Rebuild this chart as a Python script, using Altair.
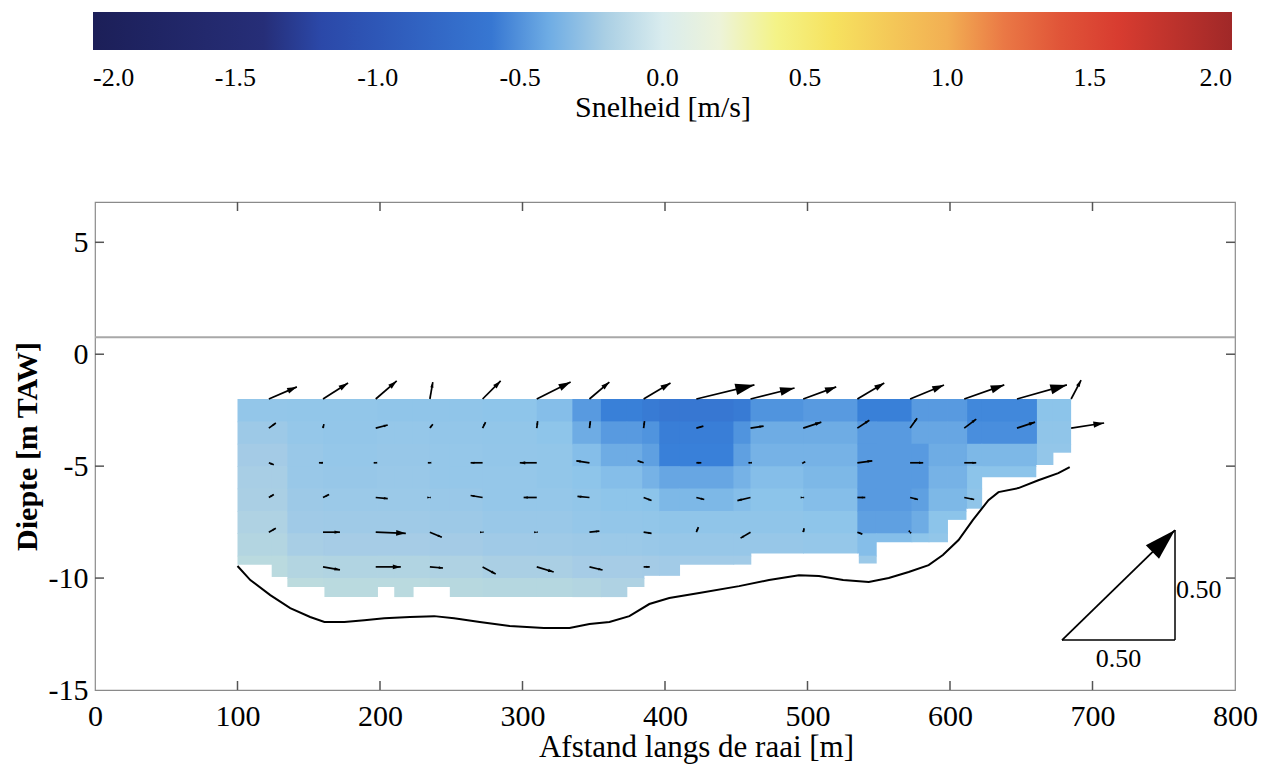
import math
import altair as alt
import pandas as pd

# ---------------- colour map (Snelheid [m/s]) ----------------
cmap_vals = [-2.0, -1.4, -1.3, -0.9, -0.47, -0.36, -0.22, -0.1, 0.0, 0.15, 0.3, 0.45,
             0.57, 0.8, 1.15, 1.22, 1.6, 2.0]
cmap_cols = ["#1c1f58", "#262e78", "#2a40a0", "#2f5fbf", "#3a82da", "#8cc4ea", "#a6cce6",
             "#c0dedc", "#d9ecee", "#ecf3e6", "#f0f2c0", "#f6f46a", "#f6e660", "#f4c858",
             "#f09c50", "#e86a40", "#d83c30", "#a02828"]
cbar_ticks = [-2.0, -1.5, -1.0, -0.5, 0.0, 0.5, 1.0, 1.5, 2.0]

# ---------------- velocity field (cells) ----------------
col_edges = [100, 135, 160, 198, 235, 272, 310, 335, 355, 384, 396, 448, 460,
             497, 535, 573, 585, 612, 661, 685]
row_tops = [-2, -3, -4, -5, -6, -7, -8, -9, -10]
row_bots = [-3, -4, -5, -6, -7, -8, -9, -10, -11]
field_vals = [
    [-0.32, -0.27, -0.23, -0.21, -0.20, -0.18, -0.16, -0.13, -0.10],
    [-0.33, -0.31, -0.29, -0.29, -0.27, -0.25, -0.21, -0.16, -0.12],
    [-0.33, -0.32, -0.31, -0.30, -0.28, -0.26, -0.22, -0.17, -0.13],
    [-0.34, -0.31, -0.30, -0.29, -0.28, -0.26, -0.22, -0.17, -0.13],
    [-0.34, -0.32, -0.31, -0.31, -0.29, -0.27, -0.23, -0.18, -0.14],
    [-0.35, -0.33, -0.32, -0.31, -0.31, -0.29, -0.25, -0.20, -0.15],
    [-0.37, -0.35, -0.33, -0.33, -0.31, -0.29, -0.26, -0.20, -0.15],
    [-0.43, -0.40, -0.37, -0.35, -0.33, -0.31, -0.27, -0.22, -0.16],
    [-0.50, -0.43, -0.40, -0.37, -0.35, -0.32, -0.28, -0.22, -0.18],
    [-0.56, -0.44, -0.42, -0.39, -0.36, -0.33, -0.29, -0.23, -0.18],
    [-0.60, -0.52, -0.49, -0.41, -0.38, -0.34, -0.30, -0.24, -0.20],
    [-0.56, -0.44, -0.42, -0.39, -0.37, -0.34, -0.30, -0.24, -0.20],
    [-0.44, -0.40, -0.39, -0.37, -0.36, -0.34, -0.30, -0.25, -0.20],
    [-0.43, -0.40, -0.39, -0.38, -0.37, -0.35, -0.31, -0.25, -0.20],
    [-0.50, -0.43, -0.43, -0.43, -0.43, -0.42, -0.37, -0.28, -0.22],
    [-0.43, -0.41, -0.43, -0.43, -0.42, -0.40, -0.35, -0.28, -0.22],
    [-0.43, -0.41, -0.40, -0.39, -0.38, -0.36, -0.33, -0.28, -0.22],
    [-0.46, -0.45, -0.38, -0.36, -0.34, -0.32, -0.30, -0.26, -0.22],
    [-0.36, -0.34, -0.32, -0.31, -0.29, -0.27, -0.25, -0.22, -0.20],
]
# lower limit of measured cells
prof_x0 = [100, 124, 135, 161, 198, 210, 223, 249, 373, 385, 410, 460, 536, 548, 598, 611, 622, 660, 672]
prof_x1 = [124, 135, 161, 198, 210, 223, 249, 373, 385, 410, 460, 536, 548, 598, 611, 622, 660, 672, 685]
prof_zb = [-9.4, -9.95, -10.4, -10.85, -10.4, -10.85, -10.4, -10.85, -10.4, -9.9, -9.4, -8.9,
           -9.35, -8.4, -7.4, -6.9, -5.5, -4.95, -4.4]

# ---------------- bed profile ----------------
bed_x = [100, 109, 123, 137, 151, 161, 175, 189, 203, 221, 238, 252, 270, 291, 315, 333, 347,
         361, 375, 389, 403, 424, 452, 473, 494, 508, 525, 543, 557, 571, 585, 595, 606, 616,
         627, 634, 648, 662, 676, 684]
bed_z = [-9.46, -10.09, -10.76, -11.34, -11.74, -11.96, -11.96, -11.88, -11.79, -11.74, -11.7,
         -11.79, -11.96, -12.14, -12.23, -12.23, -12.05, -11.96, -11.7, -11.16, -10.89, -10.67,
         -10.36, -10.09, -9.87, -9.91, -10.09, -10.18, -10.0, -9.73, -9.42, -8.97, -8.3, -7.41,
         -6.52, -6.16, -5.98, -5.63, -5.31, -5.04]

# ---------------- velocity vectors (u = along transect, w = vertical, m/s display) ----------------
arrow_x = [122, 160, 197, 235, 272, 310, 347, 385, 422, 460, 497, 535, 572, 610, 647, 685]
arrow_z = [-2.0, -3.3, -4.85, -6.4, -7.95, -9.5]
N = None
arrow_u = [
    [.124, .111, .093, .013, .080, .150, .088, .119, .257, .195, .146, .119, .150, .177, .221, .044],
    [.031, .004, .053, .013, .013, .004, .004, .004, .031, .058, .080, .053, .031, .053, .080, .146],
    [.022, -.018, -.009, -.009, -.053, -.075, -.058, -.027, .022, -.009, .009, .066, .058, .053, N, N],
    [.022, .027, .053, .004, -.053, -.058, -.053, .035, .035, -.058, .004, .035, .035, .044, N, N],
    [.031, .075, .133, .053, .004, .004, .044, .035, .009, -.044, .004, .022, .004, N, N, N],
    [N, .075, .111, .058, .058, .075, .058, .027, N, N, N, N, N, N, N, N],
]
arrow_w = [
    [.055, .073, .082, .077, .082, .077, .077, .073, .064, .050, .055, .073, .064, .064, .064, .086],
    [.023, .018, .014, .018, .027, .032, .032, .032, .009, .009, .027, .036, .045, .041, .027, .023],
    [-.009, 0, 0, 0, 0, 0, .009, .009, 0, 0, .005, .009, 0, 0, N, N],
    [.014, .014, -.005, 0, .009, 0, .005, -.014, -.009, -.014, 0, 0, -.009, -.009, N, N],
    [.018, 0, -.005, -.023, 0, 0, .005, -.005, .023, -.027, .018, -.009, -.005, N, N, N],
    [N, -.014, 0, -.005, -.032, -.023, -.014, 0, N, N, N, N, N, N, N, N],
]
# reference vector
ref_u, ref_w = 0.50, 0.50
ref_x, ref_z = 678.6, -12.77
ref_label = "0.50"

# ---------------- axes ----------------
x_labels = [0, 100, 200, 300, 400, 500, 600, 700, 800]
x_ticks = [100, 200, 300, 400, 500, 600, 700]
y_labels = [-15, -10, -5, 0, 5]
y_ticks = [-10, -5, 0, 5]
surface_z = 0.76

W, H = 1140, 488
XMIN, XMAX = 0, 800
YMIN, YMAX = -15, 6.8
PX_X = W / (XMAX - XMIN)          # px per m along x
PX_Y = H / (YMAX - YMIN)          # px per m along depth
VEC_PX_U = 226.0                  # px per m/s (horizontal)
VEC_PX_W = 220.0                  # px per m/s (vertical)
SEAM = 0.8                        # px overlap between neighbouring cells

FONT = "Liberation Serif"

# ---------------- build tables ----------------
cells = []
for ci in range(len(col_edges) - 1):
    x0, x1 = col_edges[ci], col_edges[ci + 1]
    for ri in range(len(row_tops)):
        zt, zb = row_tops[ri], row_bots[ri]
        for s0, s1, sb in zip(prof_x0, prof_x1, prof_zb):
            xa, xb = max(x0, s0), min(x1, s1)
            if xa < xb and zt > sb:
                bottom = max(zb, sb)
                ext_r = SEAM / PX_X if xb < col_edges[-1] else 0
                ext_b = SEAM / PX_Y if bottom > sb else 0
                cells.append(dict(x=xa, x2=xb + ext_r, y=zt, y2=bottom - ext_b,
                                  v=field_vals[ci][ri]))
cells_df = pd.DataFrame(cells)


def make_arrow(x, z, u, w, head_frac, min_head):
    dxp, dyp = u * VEC_PX_U, w * VEC_PX_W
    L = math.hypot(dxp, dyp)
    h = max(min_head, head_frac * L)
    ang = (math.degrees(math.atan2(dxp, dyp)) + 360) % 360
    if L > 0:
        ex, ey = dxp / L, dyp / L
    else:
        ex, ey = 1.0, 0.0
    tx, tz = x + dxp / PX_X, z + dyp / PX_Y
    hx, hz = tx - ex * h / 2 / PX_X, tz - ey * h / 2 / PX_Y
    return dict(x=x, y=z, x2=tx, y2=tz, hx=hx, hy=hz, ang=ang, sz=h * h)


arrows = []
for ri, z in enumerate(arrow_z):
    for ci, x in enumerate(arrow_x):
        u, w = arrow_u[ri][ci], arrow_w[ri][ci]
        if u is None:
            continue
        arrows.append(make_arrow(x, z, u, w, 0.32, 3.5))
arrows_df = pd.DataFrame(arrows)

ref = make_arrow(ref_x, ref_z, ref_u, ref_w, 0.2, 10)
ref_df = pd.DataFrame([ref])
legs_df = pd.DataFrame([
    dict(x=ref["x"], y=ref["y"], x2=ref["x2"], y2=ref["y"]),
    dict(x=ref["x2"], y=ref["y"], x2=ref["x2"], y2=ref["y2"]),
])
ref_txt_df = pd.DataFrame([
    dict(x=(ref["x"] + ref["x2"]) / 2, y=ref["y"] - 19 / PX_Y, t=ref_label, a="center"),
    dict(x=ref["x2"] + 1 / PX_X, y=(ref["y"] + ref["y2"]) / 2 - 5 / PX_Y, t=ref_label, a="left"),
])

bed_df = pd.DataFrame(dict(x=bed_x, y=bed_z, o=list(range(len(bed_x)))))
xt_df = pd.DataFrame(dict(x=x_ticks))
yt_df = pd.DataFrame(dict(y=y_ticks))
surf_df = pd.DataFrame(dict(y=[surface_z]))

# ---------------- encodings ----------------
xs = alt.Scale(domain=[XMIN, XMAX], nice=False, zero=False)
ys = alt.Scale(domain=[YMIN, YMAX], nice=False, zero=False)
xaxis = alt.Axis(values=x_labels, format="d", tickSize=0, domain=False, grid=False,
                 labelFont=FONT, labelFontSize=30, labelColor="black", labelPadding=11,
                 labelFlush=False, title="Afstand langs de raai [m]", titleFont=FONT,
                 titleFontSize=31, titleFontWeight="normal", titleColor="black", titlePadding=1,
                 titleX=601, titleAlign="center", titleAnchor="start")
yaxis = alt.Axis(values=y_labels, tickSize=0, domain=False, grid=False,
                 labelExpr="datum.value < 0 ? '-' + format(-datum.value, 'd') : format(datum.value, 'd')",
                 labelFont=FONT, labelFontSize=30, labelColor="black", labelPadding=7,
                 labelFlush=False, title="Diepte [m TAW]", titleFont=FONT, titleFontSize=30,
                 titleFontWeight="bold", titleColor="black", titlePadding=6)


def X(f):
    return alt.X(f, type="quantitative", scale=xs, axis=xaxis)


def Y(f):
    return alt.Y(f, type="quantitative", scale=ys, axis=yaxis)


cscale = alt.Scale(domain=cmap_vals, range=cmap_cols, interpolate="rgb", clamp=True)
color = alt.Color(
    "v:Q",
    scale=cscale,
    legend=alt.Legend(
        orient="none", legendX=-2, legendY=-190, direction="horizontal",
        gradientLength=1139, gradientThickness=38, gradientStrokeWidth=0,
        values=cbar_ticks,
        labelExpr="datum.value < 0 ? '-' + format(-datum.value, '.1f') : format(datum.value, '.1f')",
        labelFont=FONT, labelFontSize=26,
        labelColor="black", labelAlign="center", labelOffset=15, labelOverlap=False,
        title="Snelheid [m/s]", titleOrient="bottom", titleAnchor="middle",
        titleFont=FONT, titleFontSize=30, titleFontWeight="normal", titleColor="black",
        titlePadding=2,
    ),
)

field = alt.Chart(cells_df).mark_rect(strokeWidth=0).encode(
    x=X("x"), x2="x2", y=Y("y"), y2="y2", color=color)

bed = alt.Chart(bed_df).mark_line(color="black", strokeWidth=2).encode(
    x=X("x"), y=Y("y"), order="o:Q")

surface = alt.Chart(surf_df).mark_rule(color="#a8a8a8", strokeWidth=2).encode(
    y=Y("y"), x=alt.value(0), x2=alt.value(W))

tick_style = dict(color="#555555", strokeWidth=1.5)
xt_bot = alt.Chart(xt_df).mark_rule(**tick_style).encode(x=X("x"), y=alt.value(H), y2=alt.value(H - 9))
xt_top = alt.Chart(xt_df).mark_rule(**tick_style).encode(x=X("x"), y=alt.value(0), y2=alt.value(9))
yt_left = alt.Chart(yt_df).mark_rule(**tick_style).encode(y=Y("y"), x=alt.value(0), x2=alt.value(9))
yt_right = alt.Chart(yt_df).mark_rule(**tick_style).encode(y=Y("y"), x=alt.value(W), x2=alt.value(W - 9))

shafts = alt.Chart(arrows_df).mark_rule(color="black", strokeWidth=1.7).encode(
    x=X("x"), y=Y("y"), x2="x2", y2="y2")
heads = alt.Chart(arrows_df).mark_point(
    shape="M0,-1L-0.6,1L0.6,1Z", filled=True, color="black", opacity=1, strokeWidth=0).encode(
    x=X("hx"), y=Y("hy"), angle=alt.Angle("ang:Q", scale=None), size=alt.Size("sz:Q", scale=None))

legs = alt.Chart(legs_df).mark_rule(color="black", strokeWidth=1.5).encode(
    x=X("x"), y=Y("y"), x2="x2", y2="y2")
ref_shaft = alt.Chart(ref_df).mark_rule(color="black", strokeWidth=1.8).encode(
    x=X("x"), y=Y("y"), x2="x2", y2="y2")
ref_head = alt.Chart(ref_df).mark_point(
    shape="M0,-1L-0.6,1L0.6,1Z", filled=True, color="black", opacity=1, strokeWidth=0).encode(
    x=X("hx"), y=Y("hy"), angle=alt.Angle("ang:Q", scale=None), size=alt.Size("sz:Q", scale=None))
ref_txt_c = alt.Chart(ref_txt_df[ref_txt_df.a == "center"]).mark_text(
    font=FONT, fontSize=26, color="black", align="center", baseline="middle").encode(
    x=X("x"), y=Y("y"), text="t:N")
ref_txt_l = alt.Chart(ref_txt_df[ref_txt_df.a == "left"]).mark_text(
    font=FONT, fontSize=26, color="black", align="left", baseline="middle").encode(
    x=X("x"), y=Y("y"), text="t:N")

chart = alt.layer(
    field, bed, surface, xt_bot, xt_top, yt_left, yt_right,
    shafts, heads, legs, ref_shaft, ref_head, ref_txt_c, ref_txt_l,
).properties(
    width=W, height=H,
    padding={"left": 87, "top": 194, "right": 30, "bottom": 78},
    autosize=alt.AutoSizeParams(type="none"),
).configure_view(stroke="#8a8a8a", strokeWidth=1.2)

chart.save("out.html", embed_options={"renderer": "svg", "actions": False})
